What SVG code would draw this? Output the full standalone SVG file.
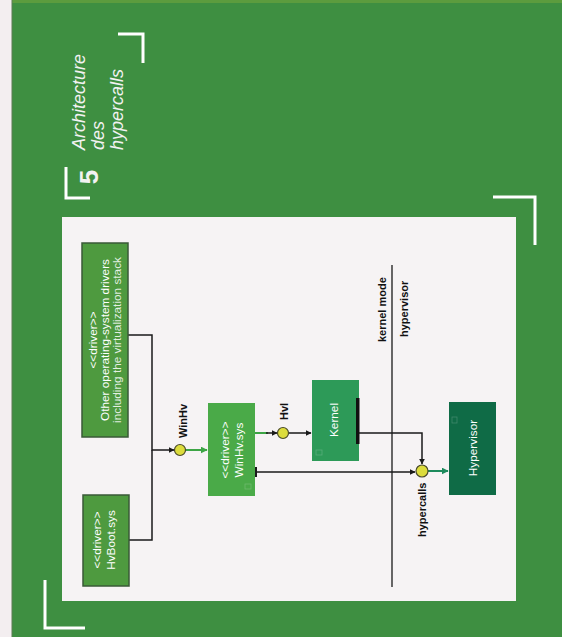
<svg xmlns="http://www.w3.org/2000/svg" width="562" height="637" viewBox="0 0 562 637">
  <style>
    .node-text { font-family: "Liberation Sans", Arial, sans-serif; font-size: 11.8px; fill: #ffffff; text-anchor: middle; }
    .label { font-family: "Liberation Sans", Arial, sans-serif; font-size: 11px; font-weight: bold; fill: #111111; }
    .title { font-family: "Liberation Sans", Arial, sans-serif; font-size: 18px; font-style: italic; fill: #f2f2f2; }
    .bracket { fill: none; stroke: #ffffff; stroke-width: 3; }
    .wire { fill: none; stroke: #1a1a1a; stroke-width: 1.5; }
    .wire-green { fill: none; stroke: #3da545; stroke-width: 2; }
    .wire-teal { fill: none; stroke: #1d8a5c; stroke-width: 2; }
    .lollipop { fill: #dcdc3c; stroke: #4a4a2a; stroke-width: 1.2; }
    .icon { fill: none; stroke: #ffffff; stroke-opacity: 0.2; stroke-width: 0.8; }
  </style>
  <defs>
    <marker id="arrow-black" viewBox="0 0 10 10" refX="9" refY="5" markerWidth="6" markerHeight="6" markerUnits="userSpaceOnUse" orient="auto">
      <path d="M0,0 L10,5 L0,10 z" fill="#1a1a1a"/>
    </marker>
    <marker id="arrow-green" viewBox="0 0 10 10" refX="9" refY="5" markerWidth="7" markerHeight="7" markerUnits="userSpaceOnUse" orient="auto">
      <path d="M0,0 L10,5 L0,10 z" fill="#3da545"/>
    </marker>
    <marker id="arrow-teal" viewBox="0 0 10 10" refX="9" refY="5" markerWidth="7" markerHeight="7" markerUnits="userSpaceOnUse" orient="auto">
      <path d="M0,0 L10,5 L0,10 z" fill="#1d8a5c"/>
    </marker>
  </defs>

  <!-- page: white margin strip and green backdrop -->
  <rect x="0" y="0" width="562" height="637" fill="#f3eef0"/>
  <rect x="12" y="0" width="550" height="637" fill="#3e8f41"/>
  <rect x="12" y="0" width="550" height="3" fill="#5c9c3e"/>
  <line x1="12" y1="0" x2="12" y2="637" stroke="#5d7d55" stroke-width="1"/>

  <!-- corner brackets -->
  <path class="bracket" d="M118,34 H143 V63"/>
  <path class="bracket" d="M493,197 H535 V245"/>
  <path class="bracket" d="M66,167 V198 H90"/>
  <path class="bracket" d="M45,580 V628 H85"/>

  <!-- heading -->
  <text transform="translate(98,177) rotate(-90)" font-family="Liberation Sans, Arial, sans-serif" font-size="26" font-weight="bold" fill="#f2f2f2" text-anchor="middle">5</text>
  <g class="title">
    <text transform="translate(85,150) rotate(-90)">Architecture</text>
    <text transform="translate(104,150) rotate(-90)">des</text>
    <text transform="translate(123,150) rotate(-90)">hypercalls</text>
  </g>

  <!-- white diagram panel -->
  <rect x="62" y="217" width="454" height="384" fill="#f6f3f4"/>

  <!-- kernel mode / hypervisor boundary -->
  <g id="boundary">
    <line x1="392" y1="265" x2="392" y2="587" stroke="#1a1a1a" stroke-width="1.3"/>
    <text class="label" transform="translate(386,342) rotate(-90)">kernel mode</text>
    <text class="label" transform="translate(408,337) rotate(-90)">hypervisor</text>
  </g>

  <!-- connectors -->
  <g id="connectors">
    <path class="wire" d="M128,335 H152 V450 H174" marker-end="url(#arrow-black)"/>
    <path class="wire" d="M129,540 H152 V450"/>
    <path class="wire-green" d="M185,450 H207" marker-end="url(#arrow-green)"/>
    <path class="wire-green" d="M255,433 H268"/>
    <path class="wire" d="M266,433 H277" marker-end="url(#arrow-black)"/>
    <path class="wire" d="M289,433 H311" marker-end="url(#arrow-black)"/>
    <path class="wire" d="M359,433 H422 V464" marker-end="url(#arrow-black)"/>
    <path class="wire" d="M255,472 H415" marker-end="url(#arrow-black)"/>
    <line x1="256" y1="467" x2="256" y2="477" stroke="#1a1a1a" stroke-width="2"/>
    <path class="wire-teal" d="M428,471 H448" marker-end="url(#arrow-teal)"/>
  </g>

  <!-- interface lollipops -->
  <g id="if-winhv">
    <circle class="lollipop" cx="180" cy="450" r="5.5"/>
    <text class="label" transform="translate(187,438) rotate(-90)">WinHv</text>
  </g>
  <g id="if-hvl">
    <circle class="lollipop" cx="283" cy="433" r="5.5"/>
    <text class="label" transform="translate(288,420) rotate(-90)">Hvl</text>
  </g>
  <g id="if-hypercalls">
    <circle class="lollipop" cx="422" cy="471" r="6"/>
    <text class="label" transform="translate(426,537) rotate(-90)">hypercalls</text>
  </g>

  <!-- components -->
  <g id="other-drivers">
    <rect x="82" y="243" width="46" height="194" fill="#4e9a3f" stroke="#3a5a37" stroke-width="1.5"/>
    <text class="node-text" transform="translate(96.5,340) rotate(-90)">&lt;&lt;driver&gt;&gt;</text>
    <text class="node-text" transform="translate(108.5,340) rotate(-90)">Other operating-system drivers</text>
    <text class="node-text" transform="translate(121,340) rotate(-90)" fill-opacity="0.85">including the virtualization stack</text>
  </g>

  <g id="hvboot">
    <rect x="83" y="495" width="46" height="91" fill="#4e9a3f" stroke="#3a5a37" stroke-width="1.5"/>
    <text class="node-text" transform="translate(101,540) rotate(-90)">&lt;&lt;driver&gt;&gt;</text>
    <text class="node-text" transform="translate(115,540) rotate(-90)">HvBoot.sys</text>
  </g>

  <g id="winhv-sys">
    <rect x="208" y="403" width="47" height="93" fill="#4aaa48"/>
    <rect class="icon" x="245" y="484" width="6" height="5"/>
    <text class="node-text" transform="translate(229,450) rotate(-90)">&lt;&lt;driver&gt;&gt;</text>
    <text class="node-text" transform="translate(242.5,450) rotate(-90)">WinHv.sys</text>
  </g>

  <g id="kernel">
    <rect x="312" y="380" width="47" height="81" fill="#2d9a58"/>
    <rect x="356" y="398" width="3.5" height="46" fill="#111111"/>
    <rect class="icon" x="316" y="450" width="6" height="5"/>
    <text class="node-text" transform="translate(338,420) rotate(-90)">Kernel</text>
  </g>

  <g id="hypervisor">
    <rect x="449" y="402" width="47" height="93" fill="#0f6b46"/>
    <rect class="icon" x="452" y="417" width="5" height="6"/>
    <text class="node-text" transform="translate(476.5,448) rotate(-90)">Hypervisor</text>
  </g>
</svg>
